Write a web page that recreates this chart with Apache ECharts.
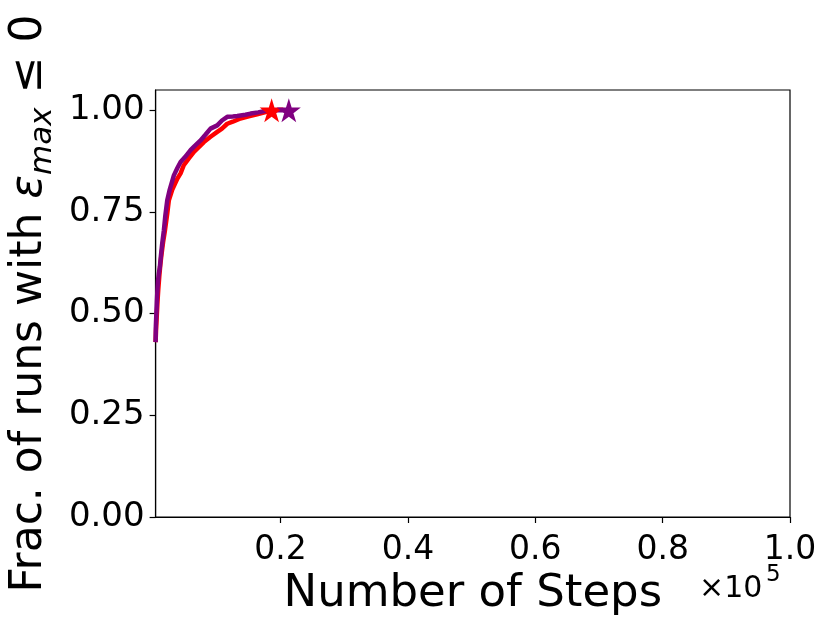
<!DOCTYPE html>
<html>
<head>
<meta charset="utf-8">
<script src="https://cdn.jsdelivr.net/npm/echarts@6/dist/echarts.min.js"></script>
<style>
  html, body { margin: 0; padding: 0; background: #fff; }
  #chart { width: 831px; height: 628px; }
</style>
</head>
<body>
<div id="chart"></div>
<script>
// steps are in units of 1e5
const stepsRed = [0.0038, 0.0045, 0.0055, 0.0068, 0.0080, 0.0095, 0.0112, 0.0130, 0.0155, 0.0185, 0.0220, 0.0246, 0.030, 0.038, 0.043, 0.048, 0.056, 0.064, 0.072, 0.0796, 0.090, 0.1006, 0.108, 0.1163, 0.125, 0.137, 0.150, 0.163, 0.175, 0.186]
const fracRed = [0.43, 0.46, 0.49, 0.53, 0.56, 0.59, 0.62, 0.645, 0.675, 0.705, 0.745, 0.779, 0.805, 0.832, 0.845, 0.865, 0.882, 0.898, 0.91, 0.922, 0.935, 0.947, 0.955, 0.967, 0.972, 0.98, 0.985, 0.99, 0.995, 1.0]

const stepsPurple = [0.0038, 0.0042, 0.0050, 0.0058, 0.0064, 0.0075, 0.0090, 0.0105, 0.0120, 0.0140, 0.0168, 0.0190, 0.0221, 0.0260, 0.0325, 0.0380, 0.043, 0.050, 0.0587, 0.065, 0.0744, 0.082, 0.090, 0.1006, 0.108, 0.1163, 0.125, 0.132, 0.145, 0.153, 0.165, 0.179, 0.213]
const fracPurple = [0.43, 0.47, 0.50, 0.53, 0.55, 0.58, 0.60, 0.615, 0.64, 0.67, 0.705, 0.74, 0.779, 0.805, 0.840, 0.858, 0.873, 0.885, 0.902, 0.912, 0.926, 0.94, 0.955, 0.963, 0.975, 0.984, 0.985, 0.986, 0.989, 0.992, 0.995, 1.0, 1.0]

const starRed = [0.186, 1.0]
const starPurple = [0.213, 1.0]

const xTicks = [0.2, 0.4, 0.6, 0.8, 1.0]
const yTicks = [0, 0.25, 0.5, 0.75, 1.0]

const FONT = 'DejaVu Sans'
const STAR = 'path://M50,0 L61.2,34.5 L97.6,34.5 L68.2,55.9 L79.4,90.5 L50,69.1 L20.6,90.5 L31.8,55.9 L2.4,34.5 L38.8,34.5 Z'

function pairs(xs, ys) {
  return xs.map((x, i) => [x, ys[i]])
}

let myChart = echarts.init(document.getElementById('chart'))
let option = {
  animation: false,
  grid: {
    left: 155,
    right: 41,
    top: 90,
    bottom: 111,
    show: true,
    borderColor: '#000',
    borderWidth: 1.2,
    backgroundColor: 'transparent'
  },
  xAxis: {
    type: 'value',
    min: 0.0038,
    max: 1.0,
    name: 'Number of Steps',
    nameLocation: 'middle',
    nameGap: 54,
    nameTextStyle: { fontFamily: FONT, fontSize: 45, color: '#000' },
    axisLine: { show: true, onZero: false, lineStyle: { color: '#000', width: 1.2 } },
    axisTick: { show: true, length: 6, inside: false, customValues: xTicks, lineStyle: { color: '#000', width: 1.2 } },
    axisLabel: {
      customValues: xTicks,
      margin: 17,
      fontFamily: FONT,
      fontSize: 33,
      color: '#000',
      formatter: v => v.toFixed(1)
    },
    splitLine: { show: false }
  },
  yAxis: {
    type: 'value',
    min: 0,
    max: 1.05,
    name: '{a|Frac. of runs with }{e|ε}{s|max}{a| ≤ 0}',
    nameLocation: 'middle',
    nameGap: 96,
    nameTextStyle: {
      fontFamily: FONT,
      fontSize: 44,
      color: '#000',
      rich: {
        a: { fontFamily: FONT, fontSize: 44, color: '#000', lineHeight: 56 },
        e: { fontFamily: FONT, fontSize: 44, fontStyle: 'italic', color: '#000', lineHeight: 56 },
        s: { fontFamily: FONT, fontSize: 31, fontStyle: 'italic', color: '#000', lineHeight: 56, verticalAlign: 'bottom' }
      }
    },
    axisLine: { show: true, onZero: false, lineStyle: { color: '#000', width: 1.2 } },
    axisTick: { show: true, length: 6, customValues: yTicks, lineStyle: { color: '#000', width: 1.2 } },
    axisLabel: {
      customValues: yTicks,
      margin: 11,
      fontFamily: FONT,
      fontSize: 34,
      color: '#000',
      formatter: v => v.toFixed(2)
    },
    splitLine: { show: false }
  },
  series: [{
    name: 'red',
    type: 'line',
    data: pairs(stepsRed, fracRed),
    showSymbol: false,
    symbol: 'none',
    lineStyle: { color: '#ff0000', width: 4.5 },
    z: 2
  }, {
    name: 'purple',
    type: 'line',
    data: pairs(stepsPurple, fracPurple),
    showSymbol: false,
    symbol: 'none',
    lineStyle: { color: '#800080', width: 4.5 },
    z: 3
  }, {
    name: 'red end',
    type: 'scatter',
    data: [starRed],
    symbol: STAR,
    symbolSize: 24,
    itemStyle: { color: '#ff0000', opacity: 1 },
    z: 4
  }, {
    name: 'purple end',
    type: 'scatter',
    data: [starPurple],
    symbol: STAR,
    symbolSize: 24,
    itemStyle: { color: '#800080', opacity: 1 },
    z: 5
  }],
  graphic: [{
    type: 'text',
    left: 699,
    top: 574,
    style: { text: '×10', fontFamily: FONT, fontSize: 30, fill: '#000' }
  }, {
    type: 'text',
    left: 766,
    top: 564,
    style: { text: '5', fontFamily: FONT, fontSize: 23, fill: '#000' }
  }]
}
myChart.setOption(option)
</script>
</body>
</html>
